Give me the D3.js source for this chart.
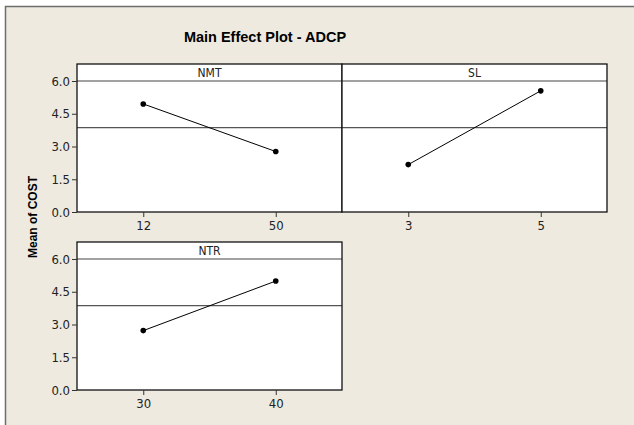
<!DOCTYPE html>
<html lang="en">
<head>
    <meta charset="UTF-8">
    <title>Main Effect Plot - ADCP</title>
    <style>
        body { margin: 0; background: #fff; }
        text { font-family: "DejaVu Sans Condensed", "Liberation Sans", Arial, sans-serif; }
    </style>
</head>
<body>
<script type='text/javascript' src='https://d3js.org/d3.v7.min.js'></script>
<script>
    // data
    var factors = ["NMT", "SL", "NTR"];
    var levels = [["12", "50"], ["3", "5"], ["30", "40"]];
    var means = [[4.95, 2.77], [2.17, 5.55], [2.72, 4.99]];
    var yTicks = [0, 1.5, 3, 4.5, 6];
    var grandMean = 3.86;

    const width = 634;
    const height = 425;
    const left = 77;
    const panelW = 265;
    const rowTop = [64, 242];
    const panelH = 148;
    const stripH = 17;

    const svg = d3.select("body")
        .append("svg")
        .attr("width", width)
        .attr("height", height);

    // beige frame
    svg.append("rect")
        .attr("x", 5.5).attr("y", 6.5)
        .attr("width", width + 10).attr("height", height + 10)
        .attr("fill", "#eeeae0")
        .attr("stroke", "#6e6e6e")
        .attr("stroke-width", 1.5);

    svg.append("text")
        .attr("x", 265).attr("y", 42)
        .attr("text-anchor", "middle")
        .attr("font-size", 14.5)
        .attr("font-weight", "bold")
        .style("font-family", "Liberation Sans, Arial, sans-serif")
        .text("Main Effect Plot - ADCP");

    svg.append("text")
        .attr("transform", "translate(37,217) rotate(-90)")
        .attr("text-anchor", "middle")
        .attr("font-size", 12)
        .attr("font-weight", "bold")
        .style("font-family", "Liberation Sans, Arial, sans-serif")
        .text("Mean of COST");

    factors.forEach(function(f, i) {
        var col = i % 2, row = Math.floor(i / 2);
        var x0 = left + col * panelW;
        var y0 = rowTop[row];
        var g = svg.append("g").attr("transform", "translate(" + x0 + "," + y0 + ")");

        var x = d3.scalePoint().domain(levels[i]).range([0, panelW]).padding(0.5);
        var y = d3.scaleLinear().domain([0, 6]).range([panelH, stripH]);

        g.append("rect")
            .attr("width", panelW).attr("height", panelH)
            .attr("fill", "#fff");

        // 6.0 line under the strip and grand mean line
        g.append("line")
            .attr("x1", 0).attr("x2", panelW)
            .attr("y1", y(6)).attr("y2", y(6))
            .attr("stroke", "#444").attr("stroke-width", 1.2);
        g.append("line")
            .attr("x1", 0).attr("x2", panelW)
            .attr("y1", y(grandMean)).attr("y2", y(grandMean))
            .attr("stroke", "#555").attr("stroke-width", 1.2);

        g.append("text")
            .attr("x", panelW / 2).attr("y", stripH / 2 + 4.5)
            .attr("text-anchor", "middle")
            .attr("font-size", 12)
            .attr("fill", "#222")
            .text(f);

        var pts = levels[i].map(function(l, j) { return [x(l), y(means[i][j])]; });
        g.append("path")
            .attr("d", d3.line()(pts))
            .attr("fill", "none")
            .attr("stroke", "#000")
            .attr("stroke-width", 1);
        g.selectAll("circle")
            .data(pts)
            .enter()
            .append("circle")
            .attr("cx", function(d) { return d[0]; })
            .attr("cy", function(d) { return d[1]; })
            .attr("r", 2.8)
            .attr("fill", "#000");

        // panel border
        g.append("rect")
            .attr("width", panelW).attr("height", panelH)
            .attr("fill", "none")
            .attr("stroke", "#111")
            .attr("stroke-width", 1.3);

        var xAxis = g.append("g")
            .attr("transform", "translate(0," + panelH + ")")
            .call(d3.axisBottom(x).tickSize(5).tickPadding(4));
        xAxis.select(".domain").remove();
        xAxis.selectAll("text").attr("font-size", 13).attr("fill", "#222");
        xAxis.selectAll("line").attr("stroke", "#333");

        if (col === 0) {
            var yAxis = g.append("g")
                .call(d3.axisLeft(y).tickValues(yTicks).tickFormat(d3.format(".1f")).tickSize(5).tickPadding(2));
            yAxis.select(".domain").remove();
            yAxis.selectAll("text").attr("font-size", 13).attr("fill", "#222");
            yAxis.selectAll("line").attr("stroke", "#333");
        }
    });
</script>
</body>
</html>
